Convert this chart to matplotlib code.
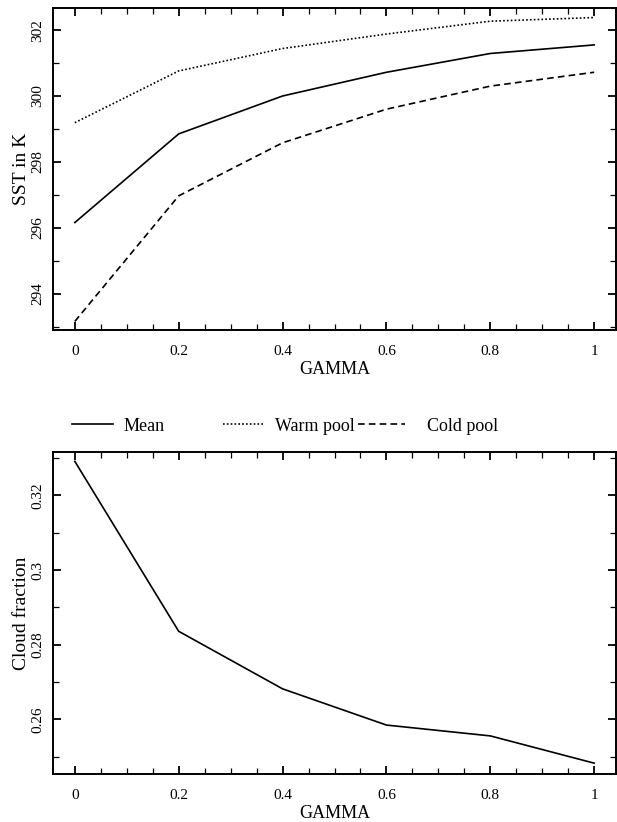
import numpy as np
import matplotlib
matplotlib.use("Agg")
import matplotlib.pyplot as plt
from matplotlib.ticker import MultipleLocator, FormatStrFormatter, FuncFormatter

plt.rcParams['font.family'] = ['Liberation Serif', 'DejaVu Serif']

# Data
gamma = [0, 0.2, 0.4, 0.6, 0.8, 1.0]
sst_mean = [296.16, 298.85, 300.0, 300.72, 301.29, 301.55]
sst_warm = [299.19, 300.76, 301.44, 301.88, 302.27, 302.38]
sst_cold = [293.16, 296.97, 298.58, 299.6, 300.3, 300.72]
cloud_frac = [0.3291, 0.2836, 0.2682, 0.2585, 0.2556, 0.2483]

fig = plt.figure(figsize=(6.17, 8.22), dpi=100)
W, H = 617, 822
ax1 = fig.add_axes([53 / W, 1 - 330 / H, 563 / W, 322 / H])
ax2 = fig.add_axes([53 / W, 1 - 774 / H, 563 / W, 322 / H])

lw = 1.2
l1, = ax1.plot(gamma, sst_mean, color="k", lw=lw, label="Mean")
l2, = ax1.plot(gamma, sst_warm, color="k", lw=lw, ls=(0, (1, 1.3)), label="Warm pool")
l3, = ax1.plot(gamma, sst_cold, color="k", lw=lw, ls=(0, (4, 2.5)), label="Cold pool")
ax2.plot(gamma, cloud_frac, color="k", lw=lw)

fmt_x = FuncFormatter(lambda v, p: "%g" % round(v, 2))

for ax in (ax1, ax2):
    ax.set_xlim(-0.042, 1.042)
    ax.xaxis.set_major_locator(MultipleLocator(0.2))
    ax.xaxis.set_minor_locator(MultipleLocator(0.05))
    ax.xaxis.set_major_formatter(fmt_x)
    ax.tick_params(which="both", direction="in", top=True, right=True, labelsize=11)
    ax.tick_params(which="major", length=6, width=1.3)
    ax.tick_params(which="minor", length=4, width=0.9)
    ax.tick_params(axis="x", pad=11)
    ax.tick_params(axis="y", pad=6)
    for s in ax.spines.values():
        s.set_linewidth(1.4)
    ax.set_xlabel("GAMMA", fontsize=13, labelpad=2)

ax1.set_ylim(292.9, 302.67)
ax1.yaxis.set_major_locator(MultipleLocator(2))
ax1.yaxis.set_minor_locator(MultipleLocator(1))
ax1.yaxis.set_major_formatter(FormatStrFormatter("%d"))
ax1.set_ylabel("SST in K", fontsize=14, labelpad=1)

ax2.set_ylim(0.2454, 0.3316)
ax2.yaxis.set_major_locator(MultipleLocator(0.02))
ax2.yaxis.set_minor_locator(MultipleLocator(0.01))
ax2.yaxis.set_major_formatter(FuncFormatter(lambda v, p: "%g" % round(v, 2)))
ax2.set_ylabel("Cloud fraction", fontsize=14, labelpad=1)

for ax in (ax1, ax2):
    for t in ax.get_yticklabels():
        t.set_rotation(90)
        t.set_va("center")

# legend entries placed separately, as in the original layout
entries = [(l1, 72, 2.25, 0.6), (l2, 223, 2.25, 0.65), (l3, 358, 2.6, 1.2)]
for handle, x0, hl, tp in entries:
    fig.legend(handles=[handle], loc="center left",
               bbox_to_anchor=(x0 / W, 1 - 426 / H), frameon=False, fontsize=13,
               handlelength=hl, handletextpad=tp, borderpad=0, borderaxespad=0)

fig.savefig("out.png", dpi=100)
